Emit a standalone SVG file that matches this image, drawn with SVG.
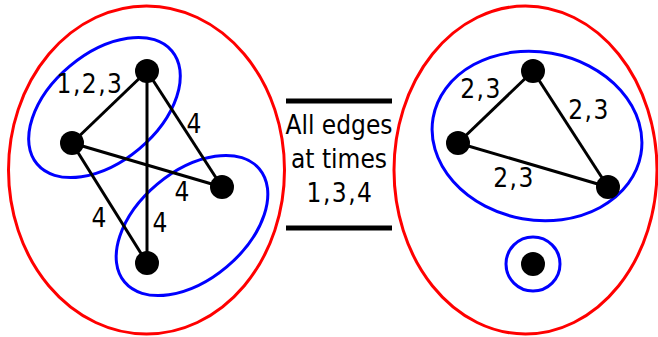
<svg xmlns="http://www.w3.org/2000/svg" width="658" height="337" viewBox="0 0 658 337">
<style>
.red{fill:none;stroke:#ff0000;stroke-width:3}
.blue{fill:none;stroke:#0000ff;stroke-width:3}
.edge{stroke:#000;stroke-width:3}
.node{fill:#000}
.lbl{font-family:"DejaVu Sans Condensed","DejaVu Sans",sans-serif;font-stretch:condensed;font-size:26px;fill:#000;text-anchor:middle}
.num{letter-spacing:1.5px}
.bar{stroke:#000;stroke-width:5}
</style>
<rect width="658" height="337" fill="#fff"/>
<g id="groups">
<ellipse class="red" cx="146.5" cy="170" rx="138" ry="164"/>
<ellipse class="red" cx="525.5" cy="170" rx="131.5" ry="164"/>
<ellipse class="blue" cx="104.5" cy="107.5" rx="88" ry="54" transform="rotate(-40 104.5 107.5)"/>
<ellipse class="blue" cx="192" cy="225.5" rx="88" ry="54" transform="rotate(-40 192 225.5)"/>
<ellipse class="blue" cx="537" cy="136" rx="105.5" ry="84" transform="rotate(10 537 136)"/>
<circle class="blue" cx="533" cy="264" r="27"/>
</g>
<g id="connectors">
<line class="edge" x1="147" y1="71" x2="72" y2="143"/>
<line class="edge" x1="147" y1="71" x2="147" y2="263"/>
<line class="edge" x1="147" y1="71" x2="222" y2="187"/>
<line class="edge" x1="72" y1="143" x2="222" y2="187"/>
<line class="edge" x1="72" y1="143" x2="147" y2="263"/>
<line class="edge" x1="533" y1="71" x2="458" y2="143"/>
<line class="edge" x1="533" y1="71" x2="608" y2="187"/>
<line class="edge" x1="458" y1="143" x2="608" y2="187"/>
</g>
<g id="n1"><circle class="node" cx="147" cy="71" r="12"/></g>
<g id="n2"><circle class="node" cx="72" cy="143" r="12"/></g>
<g id="n3"><circle class="node" cx="222" cy="187" r="12"/></g>
<g id="n4"><circle class="node" cx="147" cy="263" r="12"/></g>
<g id="m1"><circle class="node" cx="533" cy="71" r="12"/></g>
<g id="m2"><circle class="node" cx="458" cy="143" r="12"/></g>
<g id="m3"><circle class="node" cx="608" cy="187" r="12"/></g>
<g id="m4"><circle class="node" cx="533" cy="264" r="12"/></g>
<g id="labels">
<text class="lbl num" x="90" y="93">1,2,3</text>
<text class="lbl" x="194" y="133">4</text>
<text class="lbl" x="182" y="201">4</text>
<text class="lbl" x="99" y="227">4</text>
<text class="lbl" x="160" y="232">4</text>
<text class="lbl num" x="481" y="98">2,3</text>
<text class="lbl num" x="589" y="119">2,3</text>
<text class="lbl num" x="514" y="187">2,3</text>
</g>
<g id="middle">
<line class="bar" x1="286" y1="101" x2="392" y2="101"/>
<line class="bar" x1="286" y1="228" x2="392" y2="228"/>
<text class="lbl" x="339" y="134">All edges</text>
<text class="lbl" x="339" y="168">at times</text>
<text class="lbl num" x="340" y="202">1,3,4</text>
</g>
</svg>
